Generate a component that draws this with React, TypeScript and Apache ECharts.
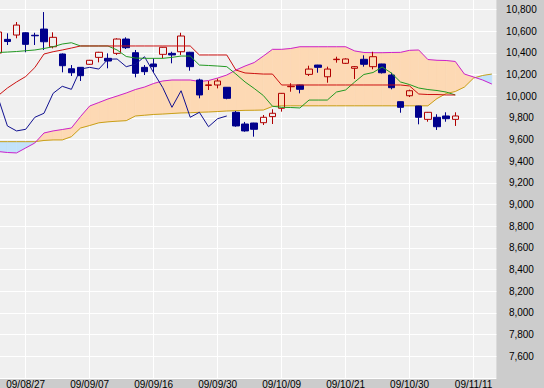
import React, { useEffect, useRef } from 'react';
import * as echarts from 'echarts';

// trading days (yy/mm/dd); the last ones carry only the forward-shifted cloud
const dates = [
  '09/08/24', '09/08/25', '09/08/26', '09/08/27', '09/08/28', '09/08/31', '09/09/01', '09/09/02', '09/09/03', '09/09/04',
  '09/09/07', '09/09/08', '09/09/09', '09/09/10', '09/09/11', '09/09/14', '09/09/15', '09/09/16', '09/09/17', '09/09/18',
  '09/09/24', '09/09/25', '09/09/28', '09/09/29', '09/09/30', '09/10/01', '09/10/02', '09/10/05', '09/10/06', '09/10/07',
  '09/10/08', '09/10/09', '09/10/13', '09/10/14', '09/10/15', '09/10/16', '09/10/19', '09/10/20', '09/10/21', '09/10/22',
  '09/10/23', '09/10/26', '09/10/27', '09/10/28', '09/10/29', '09/10/30', '09/11/02', '09/11/04', '09/11/05', '09/11/06',
  '09/11/09', '09/11/10', '09/11/11', '09/11/12', '09/11/13',
];

const opens = [
  10399, 10525, 10565, 10586, 10563, 10620, 10457, 10390, 10254, 10267,
  10295, 10359, 10350, 10396, 10528, 10402, 10267, 10298, 10387, 10396,
  10411, 10406, 10150, 10100, 10104, 10083, 9852, 9744, 9753, 9756,
  9812, 9889, 10088, 10104, 10202, 10288, 10180, 10338, 10304, 10258,
  10341, 10273, 10298, 10196, 9950, 10005, 9910, 9787, 9806, 9818, 9787,
];
const closes = [
  10593, 10505, 10657, 10479, 10558, 10503, 10544, 10282, 10217, 10190,
  10332, 10406, 10325, 10528, 10448, 10212, 10227, 10273, 10452, 10381,
  10556, 10273, 10012, 10105, 10141, 9981, 9726, 9680, 9695, 9806,
  9843, 10027, 10092, 10064, 10251, 10267, 10251, 10342, 10344, 10273,
  10295, 10365, 10217, 10079, 9898, 10051, 9806, 9852, 9719, 9793, 9818,
];
const lows = [
  10380, 10473, 10535, 10406, 10473, 10427, 10442, 10221, 10187, 10141,
  10290, 10313, 10258, 10381, 10436, 10175, 10196, 10217, 10350, 10304,
  10381, 10236, 9981, 10058, 10073, 9972, 9719, 9673, 9627, 9735,
  9744, 9858, 10042, 10027, 10187, 10217, 10125, 10310, 10298, 10159,
  10273, 10249, 10210, 10064, 9848, 9993, 9741, 9765, 9689, 9765, 9726,
];
const highs = [
  10610, 10581, 10685, 10590, 10586, 10777, 10590, 10395, 10288, 10270,
  10336, 10410, 10396, 10535, 10544, 10427, 10288, 10350, 10455, 10411,
  10586, 10410, 10162, 10141, 10162, 10085, 9864, 9763, 9755, 9827,
  9880, 10030, 10120, 10106, 10282, 10290, 10273, 10365, 10350, 10279,
  10378, 10411, 10300, 10217, 9952, 10061, 9912, 9855, 9834, 9852, 9852,
];

// conversion line (tenkan-sen)
const tenkan = [
  10404, 10408, 10413, 10420, 10427, 10441, 10457, 10482, 10494, 10464,
  10464, 10464, 10464, 10427, 10367, 10353, 10350, 10350, 10350, 10359,
  10371, 10371, 10288, 10284, 10279, 10273, 10205, 10132, 10072, 10007,
  9908, 9898, 9896, 9892, 9965, 9965, 9965, 10039, 10058, 10132,
  10201, 10219, 10270, 10215, 10132, 10108, 10076, 10062, 10053, 10039, 10012,
];
// base line (kijun-sen)
const kijun = [
  10007, 10076, 10132, 10182, 10265, 10390, 10411, 10427, 10445, 10464,
  10464, 10464, 10464, 10464, 10464, 10464, 10464, 10464, 10464, 10464,
  10464, 10464, 10381, 10381, 10381, 10381, 10242, 10215, 10210, 10205,
  10205, 10104, 10104, 10104, 10104, 10104, 10104, 10104, 10104, 10104,
  10104, 10104, 10104, 10104, 10104, 10095, 10021, 10016, 10016, 10012, 10012,
];
// leading span A
const spanA = [
  9490, 9481, 9477, 9523, 9569, 9661, 9680, 9693, 9707, 9813,
  9910, 9942, 9975, 10002, 10030, 10062, 10085, 10118, 10141, 10150,
  10150, 10150, 10136, 10145, 10168, 10196, 10242, 10279, 10311, 10371,
  10433, 10433, 10441, 10457, 10457, 10457, 10457, 10457, 10457, 10418,
  10404, 10402, 10402, 10404, 10405, 10424, 10427, 10339, 10332, 10330,
  10321, 10205, 10178, 10150, 10113,
];
// leading span B
const spanB = [
  9581, 9581, 9581, 9581, 9581, 9592, 9597, 9597, 9627, 9707,
  9730, 9755, 9764, 9770, 9775, 9818, 9825, 9832, 9836, 9841,
  9846, 9848, 9852, 9855, 9859, 9864, 9867, 9870, 9871, 9873,
  9906, 9912, 9912, 9912, 9912, 9912, 9912, 9912, 9912, 9912,
  9912, 9912, 9912, 9912, 9912, 9912, 9912, 9912, 9979, 10025,
  10044, 10085, 10168, 10192, 10205,
];

const LAG = 25; // lagging span shift in trading days
const chikou = closes.slice(LAG);

const PEACH = '#fdd9b4';
const SKY = '#c2e2fa';

const labelEvery = (idx: number) => idx >= 3 && (idx - 3) % 7 === 0;

export default function App() {
  const ref = useRef<HTMLDivElement>(null);
  useEffect(() => {
    const chart = echarts.init(ref.current!, null, { renderer: 'svg' });
    const candles = opens.map((o, j) => [o, closes[j], lows[j], highs[j]]);
    const segs = dates.slice(0, dates.length - 1).map((_, k) => [k, spanA[k]]);

    const option: any = {
      animation: false,
      backgroundColor: '#cccccc',
      grid: {
        left: -6.29,
        top: -12.1,
        width: 502.7,
        height: 390.1,
        show: true,
        backgroundColor: '#f0f0f0',
        borderWidth: 0,
        containLabel: false,
        outerBoundsMode: 'none',
      },
      xAxis: {
        type: 'category',
        data: dates,
        boundaryGap: true,
        axisLine: { show: false },
        axisTick: { show: false },
        axisLabel: {
          interval: (idx: number) => labelEvery(idx),
          fontSize: 10,
          fontFamily: 'Liberation Sans',
          color: '#000',
          margin: 1,
        },
        splitLine: {
          show: true,
          alignWithLabel: true,
          interval: (idx: number) => labelEvery(idx),
          lineStyle: { color: '#ffffff', width: 1 },
        },
      },
      yAxis: {
        type: 'value',
        position: 'right',
        min: 7400,
        max: 11000,
        interval: 200,
        axisLine: { show: false },
        axisTick: { show: false },
        axisLabel: {
          showMinLabel: false,
          showMaxLabel: false,
          formatter: (v: number) => v.toLocaleString('en-US'),
          fontSize: 10,
          fontFamily: 'Liberation Sans',
          color: '#000',
          margin: 25,
          align: 'center',
        },
        splitLine: { show: true, lineStyle: { color: '#ffffff', width: 1 } },
      },
      series: [
        {
          type: 'custom',
          name: 'cloud',
          z: 1,
          clip: true,
          silent: true,
          encode: { x: 0, y: 1 },
          data: segs,
          renderItem: (params: any, api: any) => {
            const k = params.dataIndex;
            const a0 = api.coord([k, spanA[k]]);
            const a1 = api.coord([k + 1, spanA[k + 1]]);
            const b0 = api.coord([k, spanB[k]]);
            const b1 = api.coord([k + 1, spanB[k + 1]]);
            const d0 = spanA[k] - spanB[k];
            const d1 = spanA[k + 1] - spanB[k + 1];
            const poly = (pts: number[][], c: string) => ({
              type: 'polygon',
              shape: { points: pts },
              style: { fill: c, stroke: c, lineWidth: 0.6 },
            });
            if (d0 * d1 >= 0) {
              const c = d0 + d1 >= 0 ? PEACH : SKY;
              return poly([a0, a1, b1, b0], c);
            }
            const t = d0 / (d0 - d1);
            const cx = [a0[0] + t * (a1[0] - a0[0]), a0[1] + t * (a1[1] - a0[1])];
            return {
              type: 'group',
              children: [
                poly([a0, cx, b0], d0 >= 0 ? PEACH : SKY),
                poly([cx, a1, b1], d1 >= 0 ? PEACH : SKY),
              ],
            };
          },
        },
        {
          type: 'line', name: 'spanB', data: spanB, z: 2, symbol: 'none', silent: true,
          lineStyle: { color: '#c8a018', width: 1 },
        },
        {
          type: 'line', name: 'spanA', data: spanA, z: 2, symbol: 'none', silent: true,
          lineStyle: { color: '#cc22cc', width: 1 },
        },
        {
          type: 'candlestick',
          name: 'price',
          z: 3,
          barWidth: 7,
          data: candles,
          itemStyle: {
            color: 'rgba(0,0,0,0)',
            color0: '#00008c',
            borderColor: '#b00000',
            borderColor0: '#00008c',
            borderWidth: 1,
          },
        },
        {
          type: 'line', name: 'chikou', data: chikou, z: 4, symbol: 'none', silent: true,
          lineStyle: { color: '#101090', width: 1 },
        },
        {
          type: 'line', name: 'tenkan', data: tenkan, z: 4, symbol: 'none', silent: true,
          lineStyle: { color: '#229922', width: 1 },
        },
        {
          type: 'line', name: 'kijun', data: kijun, z: 5, symbol: 'none', silent: true,
          lineStyle: { color: '#cc1111', width: 1 },
        },
      ],
    };
    chart.setOption(option);
    return () => chart.dispose();
  }, []);
  return <div ref={ref} style={{ position: 'fixed', left: 0, top: 0, width: 544, height: 388 }} />;
}
